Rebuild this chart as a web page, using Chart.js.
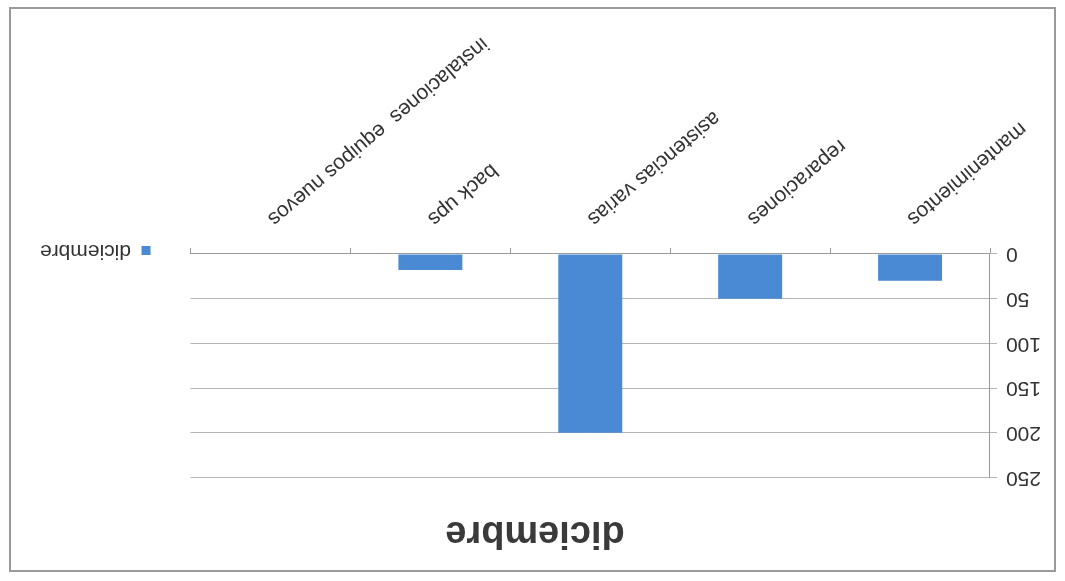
<!DOCTYPE html>
<html>
<head>
<meta charset="utf-8">
<script src="https://cdn.jsdelivr.net/npm/chart.js@4.4.1/dist/chart.umd.min.js"></script>
<style>
  html, body { margin: 0; padding: 0; background: #ffffff; }
  #wrap { position: absolute; left: 0; top: 0; width: 1065px; height: 581px; transform: rotate(180deg); background: #fff; }
  #frame { position: absolute; left: 9px; top: 9px; width: 1047px; height: 565px; border: 2px solid #9a9a9a; box-sizing: border-box; pointer-events: none; }
  canvas { position: absolute; left: 0; top: 0; }
</style>
</head>
<body>
<div id="wrap">
  <canvas id="c" width="1065" height="581"></canvas>
  <div id="frame"></div>
</div>
<script>
const categories = ["mantenimientos", "reparaciones", "asistencias varias", "back ups", "instalaciones  equipos nuevos"];
const seriesName = "diciembre";
const values = [30, 50, 200, 18, 0];
const yTicks = [0, 50, 100, 150, 200, 250];

const FONT = "'Liberation Sans', Arial, sans-serif";

// widen the legend box so the plot area ends where the reference's does
const legendWidthPlugin = {
  id: 'legendWidth',
  beforeLayout(chart) {
    const lg = chart.legend;
    if (lg && !lg._wrappedFit) {
      const orig = lg.fit;
      lg.fit = function () { orig.call(this); this.width += 25; };
      lg._wrappedFit = true;
    }
  }
};

new Chart(document.getElementById('c'), {
  type: 'bar',
  data: {
    labels: categories,
    datasets: [{
      label: seriesName,
      data: values,
      backgroundColor: '#4a89d4',
      borderWidth: 0,
      barPercentage: 0.4,
      categoryPercentage: 1.0
    }]
  },
  plugins: [legendWidthPlugin],
  options: {
    responsive: false,
    animation: false,
    devicePixelRatio: 1,
    layout: { padding: { left: 0, right: 5, top: 0, bottom: 0 } },
    plugins: {
      title: {
        display: true,
        text: seriesName,
        color: '#3a3a3a',
        font: { family: FONT, size: 38, weight: 'bold' },
        padding: { top: 26, bottom: 32 }
      },
      legend: {
        display: true,
        position: 'right',
        title: {
          display: true,
          text: ' ',
          font: { family: FONT, size: 10 },
          padding: { top: 0, bottom: 68 }
        },
        labels: {
          boxWidth: 9,
          boxHeight: 9,
          padding: 40,
          color: '#333',
          font: { family: FONT, size: 21 }
        }
      },
      tooltip: { enabled: false }
    },
    scales: {
      x: {
        offset: true,
        grid: { display: true, drawOnChartArea: false, drawTicks: true, tickLength: 6, offset: true, color: '#9a9a9a' },
        border: { display: true, color: '#9a9a9a' },
        ticks: {
          minRotation: 40, maxRotation: 40,
          color: '#333',
          padding: 17,
          font: { family: FONT, size: 21 }
        },
        afterFit: s => { s.height = 254; }
      },
      y: {
        min: yTicks[0],
        max: yTicks[yTicks.length - 1],
        afterBuildTicks: s => { s.ticks = yTicks.map(v => ({ value: v })); },
        grid: { color: '#b5b5b5', drawTicks: true, tickLength: 7 },
        border: { display: true, color: '#9a9a9a' },
        ticks: {
          color: '#333',
          padding: 9,
          font: { family: FONT, size: 21 }
        },
        afterFit: s => { s.width = 75; }
      }
    }
  }
});
</script>
</body>
</html>
